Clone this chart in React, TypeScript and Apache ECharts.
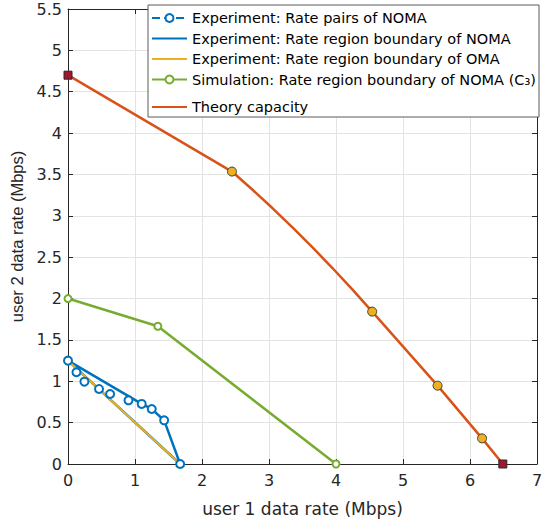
import React, { useEffect, useRef } from "react";
import * as echarts from "echarts";

const xTicks = { min: 0, max: 7, interval: 1 };
const yTicks = { min: 0, max: 5.5, interval: 0.5 };

const pairsX = [0, 0.126, 0.245, 0.463, 0.628, 0.903, 1.1, 1.25, 1.435, 1.674];
const pairsY = [1.249, 1.109, 0.995, 0.907, 0.846, 0.77, 0.726, 0.665, 0.528, 0];

const nomaBoundX = [1.674, 1.435, 1.25, 1.1, 0, 1.674];
const nomaBoundY = [0, 0.528, 0.665, 0.726, 1.249, 0];

const omaX = [0, 1.674];
const omaY = [1.249, 0];

const simX = [0, 1.341, 4.0];
const simY = [2.0, 1.665, 0];

const theoryX = [0, 2.447, 2.75, 3.05, 3.35, 3.65, 3.95, 4.25, 4.54, 5.516, 6.18, 6.49];
const theoryY = [4.7, 3.535, 3.318, 3.094, 2.861, 2.618, 2.366, 2.104, 1.842, 0.947, 0.31, 0];

const theoryDotX = [2.447, 4.54, 5.516, 6.18];
const theoryDotY = [3.535, 1.842, 0.947, 0.31];

const theoryEndX = [0, 6.49];
const theoryEndY = [4.7, 0];

const names = [
  "Experiment: Rate pairs of NOMA",
  "Experiment: Rate region boundary of NOMA",
  "Experiment: Rate region boundary of OMA",
  "Simulation: Rate region boundary of NOMA (C\u2083)",
  "Theory capacity",
];

const xName = "user 1 data rate (Mbps)";
const yName = "user 2 data rate (Mbps)";

const BLUE = "#0072BD";
const ORANGE = "#D95319";
const YELLOW = "#EDB120";
const GREEN = "#77AC30";
const DARKRED = "#A2142F";
const AXIS = "#262626";
const FONT = "DejaVu Sans, Verdana, sans-serif";
const NARROW = "Liberation Sans Narrow, Arial Narrow, sans-serif";

const zip = (xs: number[], ys: number[]) => xs.map((x, i) => [x, ys[i]]);

export default function App() {
  const ref = useRef<HTMLDivElement>(null);
  useEffect(() => {
    if (!ref.current) return;
    const chart = echarts.init(ref.current, null, { renderer: "svg" });
    const baseX = {
      type: "value",
      min: xTicks.min,
      max: xTicks.max,
      interval: xTicks.interval,
      axisLine: { show: true, onZero: false, lineStyle: { color: AXIS, width: 1 } },
      axisTick: { show: true, inside: true, length: 5, lineStyle: { color: AXIS } },
    };
    const baseY = {
      type: "value",
      min: yTicks.min,
      max: yTicks.max,
      interval: yTicks.interval,
      axisLine: { show: true, onZero: false, lineStyle: { color: AXIS, width: 1 } },
      axisTick: { show: true, inside: true, length: 5, lineStyle: { color: AXIS } },
    };
    const legendText = { fontSize: 14.5, color: "#000000", fontFamily: FONT, lineHeight: 16 };
    const legendCommon = {
      orient: "vertical",
      left: 151,
      padding: 0,
      itemGap: 4.5,
      itemWidth: 35,
      itemHeight: 10,
      backgroundColor: "transparent",
      borderWidth: 0,
      textStyle: legendText,
      z: 12,
    };
    const noSym = { itemStyle: { opacity: 0 } };
    chart.setOption({
      animation: false,
      backgroundColor: "#ffffff",
      textStyle: { fontFamily: FONT },
      grid: { left: 68, right: 10, top: 9, bottom: 59, containLabel: false, outerBoundsMode: "none" },
      xAxis: [
        {
          ...baseX,
          position: "bottom",
          name: xName,
          nameLocation: "middle",
          nameGap: 36,
          nameTextStyle: { fontSize: 17, color: AXIS, fontFamily: FONT },
          axisLabel: {
            fontSize: 16,
            color: AXIS,
            margin: 8,
            fontFamily: FONT,
            showMinLabel: true,
            showMaxLabel: true,
          },
          splitLine: { show: true, lineStyle: { color: "#e3e3e3", width: 1 } },
        },
        {
          ...baseX,
          position: "top",
          axisLabel: { show: false },
          splitLine: { show: false },
        },
      ],
      yAxis: [
        {
          ...baseY,
          position: "left",
          name: yName,
          nameLocation: "middle",
          nameGap: 29,
          nameTextStyle: { fontSize: 16.5, color: AXIS, fontFamily: NARROW },
          axisLabel: {
            fontSize: 16,
            color: AXIS,
            margin: 6,
            fontFamily: FONT,
            showMinLabel: true,
            showMaxLabel: true,
          },
          splitLine: { show: true, lineStyle: { color: "#e3e3e3", width: 1 } },
        },
        {
          ...baseY,
          position: "right",
          axisLabel: { show: false },
          splitLine: { show: false },
        },
      ],
      graphic: [
        {
          type: "rect",
          z: 10,
          shape: { x: 148, y: 5, width: 391, height: 112 },
          style: { fill: "#ffffff", stroke: "#5a5a5a", lineWidth: 1 },
        },
      ],
      legend: [
        {
          ...legendCommon,
          top: 10,
          data: [
            {
              name: names[0],
              lineStyle: { type: "dashed", opacity: 1, width: 2, color: BLUE },
            },
            { name: names[1], ...noSym },
            { name: names[2], ...noSym },
            { name: names[3] },
          ],
        },
        {
          ...legendCommon,
          top: 99,
          data: [{ name: names[4], ...noSym }],
        },
      ],
      series: [
        {
          name: names[1],
          type: "line",
          data: zip(nomaBoundX, nomaBoundY),
          symbol: "none",
          lineStyle: { color: BLUE, width: 2.5 },
          itemStyle: { color: BLUE },
          z: 2,
        },
        {
          name: names[2],
          type: "line",
          data: zip(omaX, omaY),
          symbol: "none",
          lineStyle: { color: YELLOW, width: 2 },
          itemStyle: { color: YELLOW },
          z: 3,
        },
        {
          name: names[0],
          type: "line",
          data: zip(pairsX, pairsY),
          symbol: "circle",
          symbolSize: 8,
          showAllSymbol: true,
          lineStyle: { color: BLUE, width: 2, type: "dashed", opacity: 0 },
          itemStyle: { color: "#ffffff", borderColor: BLUE, borderWidth: 2 },
          z: 4,
        },
        {
          name: names[3],
          type: "line",
          data: zip(simX, simY),
          symbol: "circle",
          symbolSize: 7,
          lineStyle: { color: GREEN, width: 2.5 },
          itemStyle: { color: "#ffffff", borderColor: GREEN, borderWidth: 2 },
          z: 3,
        },
        {
          name: names[4],
          type: "line",
          data: zip(theoryX, theoryY),
          symbol: "none",
          lineStyle: { color: ORANGE, width: 2.5 },
          itemStyle: { color: ORANGE },
          z: 3,
        },
        {
          name: "theory-points",
          type: "scatter",
          data: zip(theoryDotX, theoryDotY),
          symbol: "circle",
          symbolSize: 9,
          itemStyle: { color: YELLOW, borderColor: "#3a3a3a", borderWidth: 1, opacity: 1 },
          z: 5,
        },
        {
          name: "theory-ends",
          type: "scatter",
          data: zip(theoryEndX, theoryEndY),
          symbol: "rect",
          symbolSize: 8,
          itemStyle: { color: DARKRED, borderColor: "#2a2a2a", borderWidth: 1, opacity: 1 },
          z: 5,
        },
      ],
    });
    return () => chart.dispose();
  }, []);
  return (
    <div
      ref={ref}
      style={{ position: "fixed", left: 0, top: 0, width: 547, height: 523 }}
    />
  );
}
